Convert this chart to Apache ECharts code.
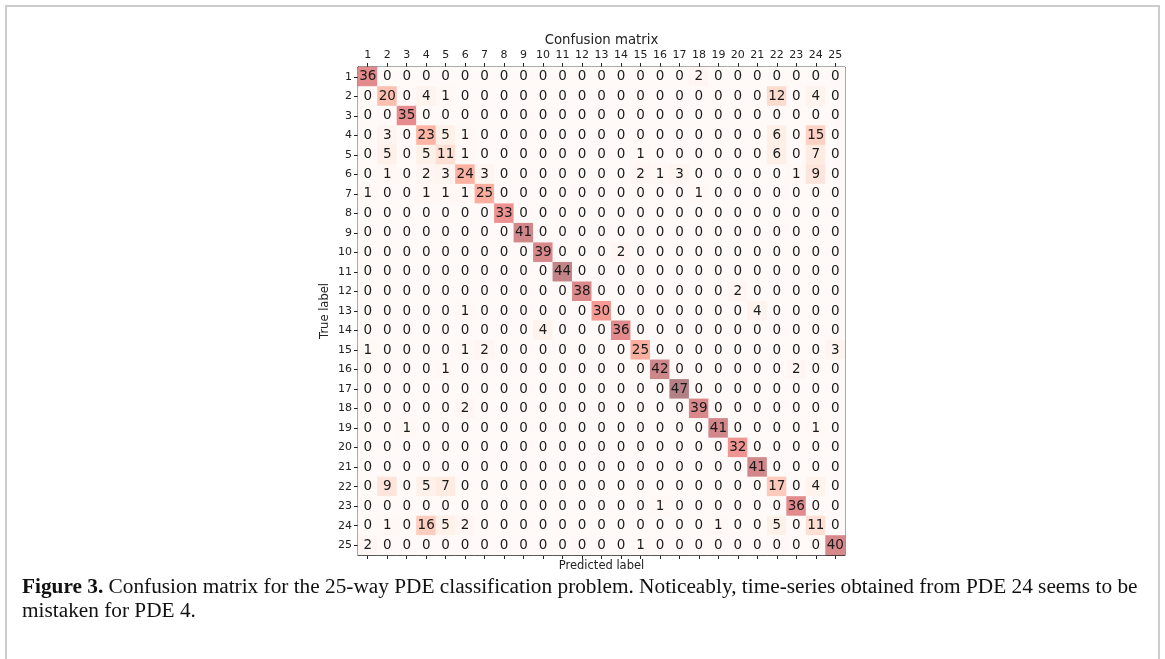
<!DOCTYPE html>
<html>
<head>
<meta charset="utf-8">
<script src="https://cdn.jsdelivr.net/npm/echarts@6/dist/echarts.min.js"></script>
<style>
html,body{margin:0;padding:0;background:#fff;}
#chart{width:1165px;height:659px;}
</style>
</head>
<body>
<div id="chart"></div>
<script>
// Category labels (predicted = columns, true = rows)
var labels = ['1','2','3','4','5','6','7','8','9','10','11','12','13','14','15','16','17','18','19','20','21','22','23','24','25'];

// Confusion matrix rows (true label 1..25), columns (predicted 1..25)
var row1  = [36,0,0,0,0,0,0,0,0,0,0,0,0,0,0,0,0,2,0,0,0,0,0,0,0];
var row2  = [0,20,0,4,1,0,0,0,0,0,0,0,0,0,0,0,0,0,0,0,0,12,0,4,0];
var row3  = [0,0,35,0,0,0,0,0,0,0,0,0,0,0,0,0,0,0,0,0,0,0,0,0,0];
var row4  = [0,3,0,23,5,1,0,0,0,0,0,0,0,0,0,0,0,0,0,0,0,6,0,15,0];
var row5  = [0,5,0,5,11,1,0,0,0,0,0,0,0,0,1,0,0,0,0,0,0,6,0,7,0];
var row6  = [0,1,0,2,3,24,3,0,0,0,0,0,0,0,2,1,3,0,0,0,0,0,1,9,0];
var row7  = [1,0,0,1,1,1,25,0,0,0,0,0,0,0,0,0,0,1,0,0,0,0,0,0,0];
var row8  = [0,0,0,0,0,0,0,33,0,0,0,0,0,0,0,0,0,0,0,0,0,0,0,0,0];
var row9  = [0,0,0,0,0,0,0,0,41,0,0,0,0,0,0,0,0,0,0,0,0,0,0,0,0];
var row10 = [0,0,0,0,0,0,0,0,0,39,0,0,0,2,0,0,0,0,0,0,0,0,0,0,0];
var row11 = [0,0,0,0,0,0,0,0,0,0,44,0,0,0,0,0,0,0,0,0,0,0,0,0,0];
var row12 = [0,0,0,0,0,0,0,0,0,0,0,38,0,0,0,0,0,0,0,2,0,0,0,0,0];
var row13 = [0,0,0,0,0,1,0,0,0,0,0,0,30,0,0,0,0,0,0,0,4,0,0,0,0];
var row14 = [0,0,0,0,0,0,0,0,0,4,0,0,0,36,0,0,0,0,0,0,0,0,0,0,0];
var row15 = [1,0,0,0,0,1,2,0,0,0,0,0,0,0,25,0,0,0,0,0,0,0,0,0,3];
var row16 = [0,0,0,0,1,0,0,0,0,0,0,0,0,0,0,42,0,0,0,0,0,0,2,0,0];
var row17 = [0,0,0,0,0,0,0,0,0,0,0,0,0,0,0,0,47,0,0,0,0,0,0,0,0];
var row18 = [0,0,0,0,0,2,0,0,0,0,0,0,0,0,0,0,0,39,0,0,0,0,0,0,0];
var row19 = [0,0,1,0,0,0,0,0,0,0,0,0,0,0,0,0,0,0,41,0,0,0,0,1,0];
var row20 = [0,0,0,0,0,0,0,0,0,0,0,0,0,0,0,0,0,0,0,32,0,0,0,0,0];
var row21 = [0,0,0,0,0,0,0,0,0,0,0,0,0,0,0,0,0,0,0,0,41,0,0,0,0];
var row22 = [0,9,0,5,7,0,0,0,0,0,0,0,0,0,0,0,0,0,0,0,0,17,0,4,0];
var row23 = [0,0,0,0,0,0,0,0,0,0,0,0,0,0,0,1,0,0,0,0,0,0,36,0,0];
var row24 = [0,1,0,16,5,2,0,0,0,0,0,0,0,0,0,0,0,0,1,0,0,5,0,11,0];
var row25 = [2,0,0,0,0,0,0,0,0,0,0,0,0,0,1,0,0,0,0,0,0,0,0,0,40];

var rows = [row1,row2,row3,row4,row5,row6,row7,row8,row9,row10,row11,row12,row13,row14,row15,row16,row17,row18,row19,row20,row21,row22,row23,row24,row25];

var data = [];
var vmax = 0;
rows.forEach(function (r, yi) {
  r.forEach(function (v, xi) {
    data.push([xi, yi, v]);
    if (v > vmax) vmax = v;
  });
});

// matplotlib "Reds" blended 50% with white
var colors = ['#fffaf8','#feefe8','#fdddd0','#fdc8b8','#fdb4a4','#f79d95','#e58b8e','#d2878a','#b38086'];

var chart = echarts.init(document.getElementById('chart'));
var tickFont = {fontFamily:'DejaVu Sans', fontSize:11, color:'#222'};
chart.setOption({
  animation:false,
  backgroundColor:'#fff',
  grid:{left:358, top:67, width:487, height:488, show:true, borderColor:'#222', borderWidth:1, backgroundColor:'transparent'},
  xAxis:[{
    type:'category', data:labels, position:'top',
    axisLine:{show:true, lineStyle:{color:'#222', width:1}},
    axisTick:{show:true, alignWithLabel:true, length:4, lineStyle:{color:'#222'}},
    axisLabel:Object.assign({margin:6, interval:0}, tickFont),
    splitLine:{show:false}, splitArea:{show:false}
  },{
    type:'category', data:labels, position:'bottom',
    axisLine:{show:true, lineStyle:{color:'#222', width:1}},
    axisTick:{show:true, alignWithLabel:true, length:4, lineStyle:{color:'#222'}},
    axisLabel:{show:false},
    name:'Predicted label', nameLocation:'middle', nameGap:5,
    nameTextStyle:{fontFamily:'DejaVu Sans', fontSize:11.5, color:'#222'},
    splitLine:{show:false}
  }],
  yAxis:{
    type:'category', data:labels, inverse:true,
    axisLine:{show:true, lineStyle:{color:'#222', width:1}},
    axisTick:{show:true, alignWithLabel:true, length:4, lineStyle:{color:'#222'}},
    axisLabel:Object.assign({margin:6, interval:0}, tickFont),
    name:'True label', nameLocation:'middle', nameGap:27, nameRotate:90,
    nameTextStyle:{fontFamily:'DejaVu Sans', fontSize:11.5, color:'#222'},
    splitLine:{show:false}
  },
  visualMap:{show:false, type:'continuous', min:0, max:vmax, dimension:2, inRange:{color:colors}},
  series:[{
    type:'heatmap', data:data,
    itemStyle:{borderWidth:0},
    label:{show:true, fontFamily:'DejaVu Sans', fontSize:13.5, color:'#1a1a1a',
      formatter:function(p){return String(p.value[2]);}},
    emphasis:{disabled:true}
  }],
  graphic:[
    {type:'rect', shape:{x:6, y:6, width:1153, height:720}, style:{fill:'none', stroke:'#cccccc', lineWidth:2}, silent:true},
    {type:'text', x:601.5, y:41, style:{text:'Confusion matrix', fontFamily:'DejaVu Sans', fontSize:13.3, fill:'#222', textAlign:'center', textVerticalAlign:'middle'}},
    {type:'text', x:22, y:575, style:{
      text:'{b|Figure 3.} Confusion matrix for the 25-way PDE classification problem. Noticeably, time-series obtained from PDE 24 seems to be\nmistaken for PDE 4.',
      fontFamily:'Liberation Serif', fontSize:21.3, lineHeight:24, fill:'#111',
      rich:{b:{fontFamily:'Liberation Serif', fontSize:21.3, fontWeight:'bold', lineHeight:24, fill:'#111'}}
    }}
  ]
});
</script>
</body>
</html>
